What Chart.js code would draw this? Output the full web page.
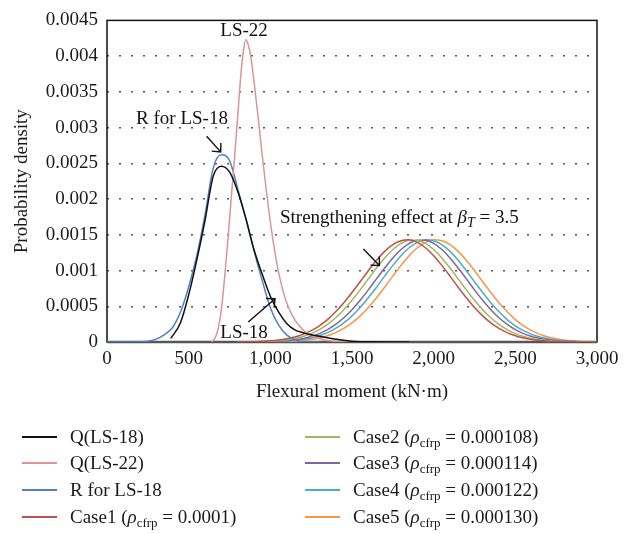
<!DOCTYPE html>
<html>
<head>
<meta charset="utf-8">
<script src="https://cdn.jsdelivr.net/npm/chart.js@4"></script>
<style>
body { margin: 0; background: #fff; width: 638px; height: 534px; overflow: hidden; position: relative; font-family: "Liberation Serif", serif; color: #1a1a1a; }
#wrap { position: absolute; left: 0; top: 0; width: 638px; height: 410px; }
#legend { position: absolute; left: 0; top: 0; width: 638px; height: 534px; font-size: 19px; pointer-events: none; }
.item { position: absolute; height: 26px; line-height: 26px; white-space: nowrap; }
.item b { position: absolute; left: 0; top: 12px; width: 35px; height: 2px; }
.item span { position: absolute; left: 48px; top: 0; }
.item sub { font-size: 13px; vertical-align: -4px; line-height: 0; }
</style>
</head>
<body>
<div id="wrap"><canvas id="c_moment"></canvas></div>
<div id="legend"></div>
<script>
// probability density curves (x in kN·m)
const q18X = [390, 450, 500, 550, 600, 650, 700, 750, 800, 850, 900, 950, 1000, 1050, 1100, 1150, 1200, 1300, 1400, 1500, 1600, 1850];
const q18Y = [0.00005, 0.00027, 0.00066, 0.00115, 0.0017, 0.00232, 0.00246, 0.00238, 0.00211, 0.00173, 0.00129, 0.00095, 0.00064, 0.00042, 0.00026, 0.00017, 0.00013, 0.00008, 0.00004, 0.00001, 0.000003, 0];

const q22X = [640, 660, 680, 700, 720, 740, 760, 780, 800, 820, 835, 850, 865, 880, 900, 925, 950, 975, 1000, 1025, 1050, 1075, 1100, 1150, 1200, 1250, 1300, 1350, 1400, 1500];
const q22Y = [0, 0.00005, 0.00018, 0.00045, 0.0009, 0.00142, 0.002, 0.00255, 0.00315, 0.00375, 0.00407, 0.00423, 0.00416, 0.004, 0.00365, 0.00315, 0.00262, 0.00213, 0.00168, 0.0013, 0.00098, 0.00074, 0.00055, 0.00031, 0.00017, 0.00009, 0.00005, 0.00002, 0.00001, 0];

const rX = [0, 100, 200, 250, 300, 350, 400, 450, 500, 550, 600, 650, 700, 750, 800, 850, 900, 950, 1000, 1050, 1100, 1150, 1200, 1300];
const rY = [0, 0, 0.000003, 0.00001, 0.00004, 0.0001, 0.0002, 0.00042, 0.00077, 0.00121, 0.00178, 0.00243, 0.00262, 0.00254, 0.00215, 0.00173, 0.00128, 0.00086, 0.00048, 0.00024, 0.0001, 0.00003, 0.000005, 0];

const caseX = [800, 850, 900, 950, 1000, 1050, 1100, 1150, 1200, 1250, 1300, 1350, 1400, 1450, 1500, 1550, 1600, 1650, 1700, 1750, 1800,
    1850, 1900, 1950, 2000, 2050, 2100, 2150, 2200, 2250, 2300, 2350, 2400, 2450, 2500, 2550, 2600, 2650, 2700, 2750, 2800, 2850, 2900, 2950, 3000];
const case1Y = [0.000002, 0.000003, 0.000005, 0.000009, 0.000016, 0.000027, 0.000045, 0.00007, 0.000107, 0.000158, 0.000227, 0.000314, 0.000422, 0.000549, 0.000692, 0.000844, 0.000998, 0.001143, 0.001268, 0.001362, 0.001417,
    0.001429, 0.001395, 0.001319, 0.001208, 0.001072, 0.000922, 0.000767, 0.000619, 0.000483, 0.000366, 0.000268, 0.00019, 0.000131, 0.000087, 0.000056, 0.000035, 0.000021, 0.000012, 0.000007, 0.000004, 0.000002, 0.000001, 0, 0];
const case2Y = [0.000001, 0.000002, 0.000004, 0.000006, 0.00001, 0.000018, 0.000031, 0.00005, 0.000078, 0.000118, 0.000174, 0.000247, 0.000339, 0.000452, 0.000583, 0.000729, 0.000883, 0.001035, 0.001176, 0.001294, 0.00138,
    0.001424, 0.001424, 0.00138, 0.001294, 0.001176, 0.001035, 0.000883, 0.000729, 0.000583, 0.000452, 0.000339, 0.000247, 0.000174, 0.000118, 0.000078, 0.00005, 0.000031, 0.000018, 0.00001, 0.000006, 0.000004, 0.000002, 0.000001, 0];
const case3Y = [0.000001, 0.000001, 0.000002, 0.000004, 0.000006, 0.00001, 0.000018, 0.000031, 0.00005, 0.000078, 0.000118, 0.000174, 0.000247, 0.000339, 0.000452, 0.000583, 0.000729, 0.000883, 0.001035, 0.001176, 0.001294,
    0.00138, 0.001424, 0.001424, 0.00138, 0.001294, 0.001176, 0.001035, 0.000883, 0.000729, 0.000583, 0.000452, 0.000339, 0.000247, 0.000174, 0.000118, 0.000078, 0.00005, 0.000031, 0.000018, 0.00001, 0.000006, 0.000004, 0.000002, 0.000001];
const case4Y = [0, 0.000001, 0.000001, 0.000002, 0.000004, 0.000007, 0.000012, 0.000021, 0.000035, 0.000056, 0.000087, 0.000131, 0.00019, 0.000268, 0.000366, 0.000483, 0.000619, 0.000767, 0.000922, 0.001072, 0.001208,
    0.001319, 0.001395, 0.001429, 0.001417, 0.001362, 0.001268, 0.001143, 0.000998, 0.000844, 0.000692, 0.000549, 0.000422, 0.000314, 0.000227, 0.000158, 0.000107, 0.00007, 0.000045, 0.000027, 0.000016, 0.000009, 0.000005, 0.000003, 0.000002];
const case5Y = [0, 0, 0.000001, 0.000001, 0.000002, 0.000004, 0.000007, 0.000012, 0.000021, 0.000035, 0.000056, 0.000087, 0.000131, 0.00019, 0.000268, 0.000366, 0.000483, 0.000619, 0.000767, 0.000922, 0.001072,
    0.001208, 0.001319, 0.001395, 0.001429, 0.001417, 0.001362, 0.001268, 0.001143, 0.000998, 0.000844, 0.000692, 0.000549, 0.000422, 0.000314, 0.000227, 0.000158, 0.000107, 0.00007, 0.000045, 0.000027, 0.000016, 0.000009, 0.000005, 0.000003];

const caseRho = ['0.0001', '0.000108', '0.000114', '0.000122', '0.000130'];
const xTickLabels = ['0', '500', '1,000', '1,500', '2,000', '2,500', '3,000'];
const yTickLabels = ['0', '0.0005', '0.001', '0.0015', '0.002', '0.0025', '0.003', '0.0035', '0.004', '0.0045'];

const FONT = '"Liberation Serif", "DejaVu Serif", serif';
const c_moment = document.getElementById('c_moment');

function pts(xs, ys) {
    return xs.map((x, i) => ({x: x, y: ys[i]}));
}

function line(label, xs, ys, color) {
    return {
        label: label,
        data: pts(xs, ys),
        borderColor: color,
        backgroundColor: color,
        borderWidth: 1.5,
        pointRadius: 0,
        fill: false,
        cubicInterpolationMode: 'monotone'
    };
}

var moment_datasets = [
    line('Q(LS-18)', q18X, q18Y, '#111111'),
    line('Q(LS-22)', q22X, q22Y, '#d99694'),
    line('R for LS-18', rX, rY, '#4f81bd'),
    line('Case1 (ρcfrp = ' + caseRho[0] + ')', caseX, case1Y, '#c0504d'),
    line('Case2 (ρcfrp = ' + caseRho[1] + ')', caseX, case2Y, '#9bbb59'),
    line('Case3 (ρcfrp = ' + caseRho[2] + ')', caseX, case3Y, '#8064a2'),
    line('Case4 (ρcfrp = ' + caseRho[3] + ')', caseX, case4Y, '#4bacc6'),
    line('Case5 (ρcfrp = ' + caseRho[4] + ')', caseX, case5Y, '#f79646')
];

// draw order: cases first, then the left curves on top
moment_datasets.forEach((d, i) => { d.order = i < 3 ? 0 : 1; });

// frame around the plot area, under the curves
const framePlugin = {
    id: 'frame',
    beforeDatasetsDraw(chart) {
        const a = chart.chartArea;
        const ctx = chart.ctx;
        ctx.save();
        ctx.strokeStyle = '#111';
        ctx.lineWidth = 1.5;
        ctx.strokeRect(a.left, a.top, a.right - a.left, a.bottom - a.top);
        ctx.strokeStyle = '#555';
        ctx.lineWidth = 2.5;
        ctx.beginPath();
        ctx.moveTo(a.left, a.bottom);
        ctx.lineTo(a.right, a.bottom);
        ctx.stroke();
        ctx.restore();
    }
};

// text notes and arrows, placed in data units
const notes = [
    {text: 'LS-22', x: 839, y: 0.00435},
    {text: 'R for LS-18', x: 459, y: 0.00312},
    {text: 'LS-18', x: 839, y: 0.000125}
];
const arrows = [
    [610, 0.00288, 696, 0.00266],
    [865, 0.000281, 1029, 0.000605],
    [1570, 0.0013, 1668, 0.00107]
];

const notesPlugin = {
    id: 'notes',
    afterDatasetsDraw(chart) {
        const ctx = chart.ctx;
        const sx = chart.scales.x, sy = chart.scales.y;
        ctx.save();
        ctx.fillStyle = '#111';
        ctx.font = '19px ' + FONT;
        ctx.textAlign = 'center';
        ctx.textBaseline = 'middle';
        notes.forEach(n => ctx.fillText(n.text, sx.getPixelForValue(n.x), sy.getPixelForValue(n.y)));

        ctx.strokeStyle = '#111';
        ctx.lineWidth = 1.4;
        arrows.forEach(a => {
            const x0 = sx.getPixelForValue(a[0]), y0 = sy.getPixelForValue(a[1]);
            const x1 = sx.getPixelForValue(a[2]), y1 = sy.getPixelForValue(a[3]);
            const ang = Math.atan2(y1 - y0, x1 - x0);
            ctx.beginPath();
            ctx.moveTo(x0, y0);
            ctx.lineTo(x1, y1);
            ctx.moveTo(x1 - 9 * Math.cos(ang - 0.75), y1 - 9 * Math.sin(ang - 0.75));
            ctx.lineTo(x1, y1);
            ctx.lineTo(x1 - 9 * Math.cos(ang + 0.75), y1 - 9 * Math.sin(ang + 0.75));
            ctx.stroke();
        });

        // Strengthening effect at βT = 3.5
        let px = sx.getPixelForValue(1059);
        const py = sy.getPixelForValue(0.00173);
        ctx.textAlign = 'left';
        const parts = [
            ['Strengthening effect at ', '19px ' + FONT, 0],
            ['β', 'italic 19px ' + FONT, 0],
            ['T', 'italic 14px ' + FONT, 5],
            [' = 3.5', '19px ' + FONT, 0]
        ];
        parts.forEach(p => {
            ctx.font = p[1];
            ctx.fillText(p[0], px, py + p[2]);
            px += ctx.measureText(p[0]).width;
        });
        ctx.restore();
    }
};

var moment_data = {
    type: 'line',
    data: {
        datasets: moment_datasets
    },
    options: {
        responsive: true,
        maintainAspectRatio: false,
        animation: false,
        layout: {
            padding: {left: 0, right: 41, top: 17, bottom: 0}
        },
        plugins: {
            legend: {display: false},
            tooltip: {enabled: false}
        },
        scales: {
            x: {
                type: 'linear',
                min: 0,
                max: 3000,
                ticks: {
                    stepSize: 500,
                    padding: 6,
                    color: '#1a1a1a',
                    font: {family: FONT, size: 19},
                    maxRotation: 0,
                    callback: (v, i) => xTickLabels[i]
                },
                grid: {display: false, drawTicks: false},
                border: {display: false},
                title: {
                    display: true,
                    text: 'Flexural moment (kN·m)',
                    color: '#1a1a1a',
                    font: {family: FONT, size: 19},
                    padding: {top: 10, bottom: 7}
                },
                afterFit: (scale) => { scale.height = 68; }
            },
            y: {
                min: 0,
                max: 0.0045,
                ticks: {
                    stepSize: 0.0005,
                    padding: 9,
                    color: '#1a1a1a',
                    font: {family: FONT, size: 19},
                    callback: (v, i) => yTickLabels[i]
                },
                grid: {
                    drawTicks: false,
                    lineWidth: 1.5,
                    color: (c) => (c.index === 0 || c.index === yTickLabels.length - 1) ? 'rgba(0,0,0,0)' : '#555',
                    tickBorderDash: [2, 10]
                },
                border: {display: false, dash: [2, 10]},
                title: {
                    display: true,
                    text: 'Probability density',
                    color: '#1a1a1a',
                    font: {family: FONT, size: 19},
                    padding: {top: 11, bottom: 11}
                },
                afterFit: (scale) => { scale.width = 107; }
            }
        }
    },
    plugins: [framePlugin, notesPlugin]
};

var chart_moment = new Chart(c_moment, moment_data);

// legend below the plot, with the subscripted rho
const legendEl = document.getElementById('legend');
const legendPos = [[22, 424], [22, 450], [22, 477], [22, 504], [305, 424], [305, 450], [305, 477], [305, 504]];
moment_datasets.forEach((d, i) => {
    const item = document.createElement('div');
    item.className = 'item';
    item.style.left = legendPos[i][0] + 'px';
    item.style.top = legendPos[i][1] + 'px';
    let text = d.label;
    if (i >= 3) {
        text = 'Case' + (i - 2) + ' (<i>ρ</i><sub>cfrp</sub> = ' + caseRho[i - 3] + ')';
    }
    item.innerHTML = '<b style="background:' + d.borderColor + '"></b><span>' + text + '</span>';
    legendEl.appendChild(item);
});
</script>
</body>
</html>
